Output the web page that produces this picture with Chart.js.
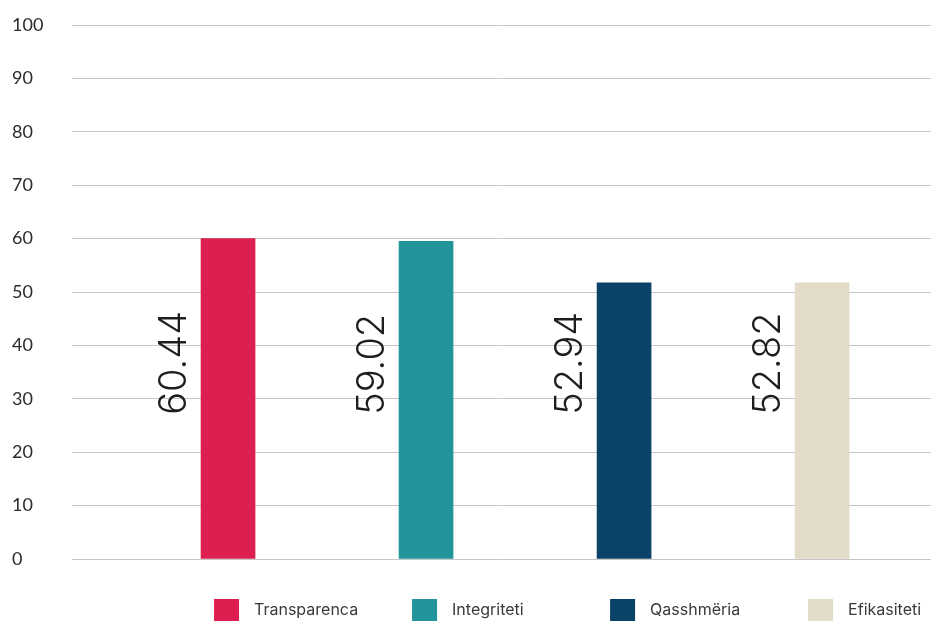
<!DOCTYPE html>
<html>
<head>
<meta charset="utf-8">
<script src="https://cdn.jsdelivr.net/npm/chart.js@4.4.1/dist/chart.umd.min.js"></script>
<style>
    html, body { margin: 0; padding: 0; background: #fff; }
    #wrap { width: 931px; height: 621px; position: relative; }
</style>
</head>
<body>
<div id="wrap"><canvas id="chart-bars"></canvas></div>
<script>
const CATEGORIES = ['Transparenca', 'Integriteti', 'Qasshmëria', 'Efikasiteti'];
const BAR_VALUES = [60.0, 59.5, 51.7, 51.7];
const BAR_LABELS = ['60.44', '59.02', '52.94', '52.82'];
const COLORS = ['#dc1f4f', '#21959b', '#0b4368', '#e3dcc8'];
const Y_TICKS = [0, 10, 20, 30, 40, 50, 60, 70, 80, 90, 100];
const LABEL_BASE = 27.0; // value where the rotated labels start

const FONT = "Lato, 'Open Sans', sans-serif";
const LABEL_FONT = "Inter, Lato, sans-serif";

// rotated value labels + legend placed under each bar
const barText = {
    id: 'barText',
    afterDatasetsDraw(chart) {
        const ctx = chart.ctx;
        const bars = chart.getDatasetMeta(0).data;
        const yBase = chart.scales.y.getPixelForValue(LABEL_BASE);
        ctx.save();
        bars.forEach((bar, i) => {
            ctx.save();
            ctx.translate(bar.x - 42, yBase);
            ctx.rotate(-Math.PI / 2);
            ctx.font = `300 38px ${LABEL_FONT}`;
            ctx.fillStyle = '#1e1e1e';
            ctx.textAlign = 'left';
            ctx.textBaseline = 'alphabetic';
            ctx.fillText(BAR_LABELS[i], 0, 0);
            ctx.restore();

            // legend
            const bx = bar.x - 14;
            ctx.fillStyle = COLORS[i];
            ctx.fillRect(bx, 599, 25, 25);
            ctx.font = `16px ${LABEL_FONT}`;
            ctx.fillStyle = '#3a3a3a';
            ctx.textAlign = 'left';
            ctx.textBaseline = 'middle';
            ctx.fillText(CATEGORIES[i], bx + 40, 610);
        });
        ctx.restore();
    }
};

new Chart(document.getElementById('chart-bars'), {
    type: 'bar',
    data: {
        datasets: [{
            data: BAR_VALUES.map((v, i) => ({ x: i, y: v })),
            backgroundColor: COLORS,
            barThickness: 54,
            borderWidth: 0
        }]
    },
    options: {
        responsive: true,
        maintainAspectRatio: false,
        animation: false,
        layout: { padding: { left: 12, right: 0, top: 25, bottom: 62 } },
        plugins: { legend: { display: false }, tooltip: { enabled: false } },
        scales: {
            x: {
                type: 'linear',
                min: -0.788,
                max: 3.55,
                display: false,
                offset: false
            },
            y: {
                min: 0,
                max: 100,
                afterFit: s => { s.width = 60; },
                afterBuildTicks: s => { s.ticks = Y_TICKS.map(v => ({ value: v })); },
                border: { display: false },
                grid: { color: '#c6c6c6', lineWidth: 1, drawTicks: false },
                ticks: {
                    crossAlign: 'far',
                    padding: 0,
                    color: '#2b2b2b',
                    font: { family: FONT, size: 18 }
                }
            }
        }
    },
    plugins: [barText]
});
</script>
</body>
</html>
